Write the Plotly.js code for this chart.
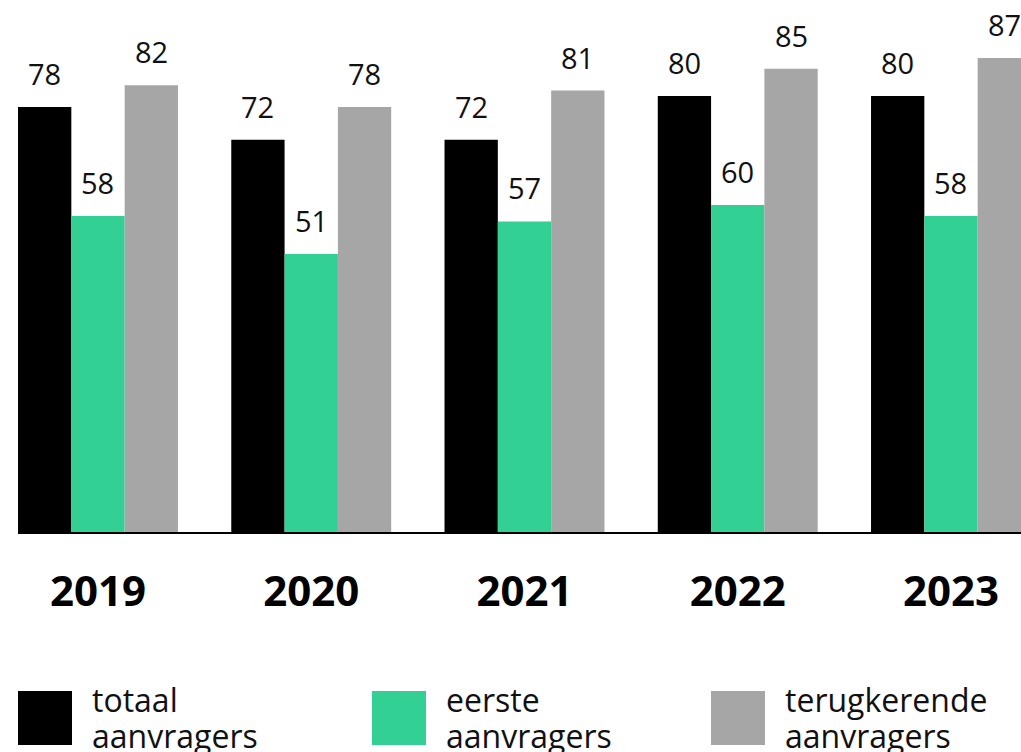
<!DOCTYPE html>
<html>
<head>
<meta charset="utf-8">
<script src="https://cdn.plot.ly/plotly-3.0.1.min.js"></script>
<style>
html,body{margin:0;padding:0;background:#fff;}
#chart{width:1021px;height:752px;}
</style>
</head>
<body>
<div id="chart"></div>
<script>
const years = ['2019', '2020', '2021', '2022', '2023'];
const totaal = [78, 72, 72, 80, 80];
const eerste = [58, 51, 57, 60, 58];
const terugkerende = [82, 78, 81, 85, 87];
const seriesNames = ['totaal<br>aanvragers', 'eerste<br>aanvragers', 'terugkerende<br>aanvragers'];
const seriesColors = ['#000000', '#33D096', '#A6A6A6'];

const allSeries = [totaal, eerste, terugkerende];

const W = 1021, H = 752;
const margin = {l: 18, r: 0, t: 0, b: 220};
const xRange = [-0.3751, 4.3283];
const yRange = [0, 97.63];
const bargap = 0.25;
const plotW = W - margin.l - margin.r;
const plotH = H - margin.t - margin.b;
const pxPerCat = plotW / (xRange[1] - xRange[0]);
const barPx = pxPerCat * (1 - bargap) / allSeries.length;

const FONT = 'Open Sans';

const traces = allSeries.map((vals, i) => ({
  type: 'bar',
  x: years,
  y: vals,
  name: seriesNames[i],
  marker: {color: seriesColors[i], line: {width: 0}},
  hoverinfo: 'none',
  showlegend: false
}));

const annotations = [];
allSeries.forEach((vals, i) => {
  vals.forEach((v, j) => {
    annotations.push({
      x: j, y: v, xref: 'x', yref: 'y',
      text: String(v), showarrow: false,
      xanchor: 'center', yanchor: 'bottom',
      xshift: (i - 1) * barPx, yshift: 12,
      font: {family: FONT, size: 29, color: '#111'}
    });
  });
});

// legend built from series names/colours
const legendX = [18, 372, 711];
const shapes = [];
seriesNames.forEach((nm, i) => {
  const x0 = (legendX[i] - margin.l) / plotW;
  const x1 = (legendX[i] + 54 - margin.l) / plotW;
  const y0 = (plotH - 745) / plotH;
  const y1 = (plotH - 691) / plotH;
  shapes.push({type: 'rect', xref: 'paper', yref: 'paper', x0: x0, x1: x1, y0: y0, y1: y1,
    fillcolor: seriesColors[i], line: {width: 0}, layer: 'above'});
  nm.split('<br>').forEach((line, k) => {
    annotations.push({
      xref: 'paper', yref: 'paper',
      x: (legendX[i] + 72 - margin.l) / plotW,
      y: (plotH - (723 + k * 36)) / plotH,
      xanchor: 'left', yanchor: 'bottom', align: 'left',
      text: line, showarrow: false,
      font: {family: FONT, size: 32, color: '#111'}
    });
  });
});

const layout = {
  width: W, height: H,
  margin: margin,
  paper_bgcolor: '#fff', plot_bgcolor: '#fff',
  barmode: 'group', bargap: bargap, bargroupgap: 0,
  showlegend: false,
  xaxis: {
    type: 'category', range: xRange, fixedrange: true,
    showgrid: false, zeroline: false,
    showline: true, linecolor: '#000', linewidth: 2,
    ticks: '', ticklabelstandoff: 22,
    tickfont: {family: FONT, size: 42, color: '#000', weight: 700}
  },
  yaxis: {
    range: yRange, fixedrange: true,
    showgrid: false, zeroline: false, showline: false,
    showticklabels: false, ticks: ''
  },
  annotations: annotations,
  shapes: shapes
};

Plotly.newPlot('chart', traces, layout, {staticPlot: true, displayModeBar: false});
</script>
</body>
</html>
